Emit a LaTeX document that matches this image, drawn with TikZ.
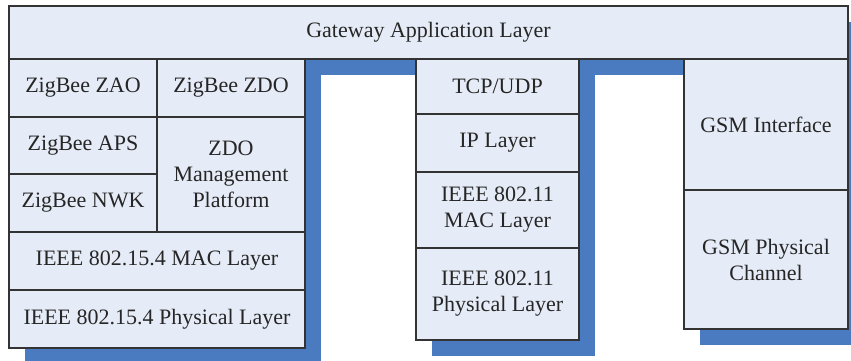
\documentclass[tikz,border=0pt]{standalone}
\usepackage{fontspec}
\setmainfont{Liberation Serif}
\newfontfamily\dfont{Liberation Serif}
\definecolor{boxfill}{HTML}{E6ECF7}
\definecolor{shadowblue}{HTML}{4A7BC0}
\definecolor{edge}{HTML}{333333}
\begin{document}
\begin{tikzpicture}[x=0.5pt,y=-0.5pt,
  box/.style={draw=edge, fill=boxfill, line width=0.6pt, inner sep=0pt,
    align=center, font=\dfont\fontsize{11}{13}\selectfont, text=black!85},
  shadowfill/.style={fill=shadowblue}]
\useasboundingbox (0,0) rectangle (851,360);
\clip (0,0) rectangle (851,360);
% shadows
\fill[shadowfill] (25,22) rectangle (864,75);
\fill[shadowfill] (25,75) rectangle (321,364);
\fill[shadowfill] (432,75) rectangle (595,356);
\fill[shadowfill] (700,75) rectangle (864,345);
% top layer
\node[box, minimum width=419.5pt, minimum height=26.5pt] (app) at (428.5,32.5) {Gateway Application Layer};
% ZigBee stack
\node[box, minimum width=74pt, minimum height=29pt] (zao) at (83,88) {ZigBee ZAO};
\node[box, minimum width=74pt, minimum height=29pt] (zdo) at (231,88) {ZigBee ZDO};
\node[box, minimum width=74pt, minimum height=28.5pt] (aps) at (83,145.5) {ZigBee APS};
\node[box, minimum width=74pt, minimum height=29pt] (nwk) at (83,203) {ZigBee NWK};
\node[box, minimum width=74pt, minimum height=57.5pt] (zdom) at (231,174.5) {ZDO\\Management\\Platform};
\node[box, minimum width=148pt, minimum height=29pt] (mac154) at (157,261) {IEEE 802.15.4 MAC Layer};
\node[box, minimum width=148pt, minimum height=29pt] (phy154) at (157,319) {IEEE 802.15.4 Physical Layer};
% WiFi stack
\node[box, minimum width=81.5pt, minimum height=27.5pt] (tcp) at (497.5,86.5) {TCP/UDP};
\node[box, minimum width=81.5pt, minimum height=29pt] (ip) at (497.5,143) {IP Layer};
\node[box, minimum width=81.5pt, minimum height=38pt] (mac11) at (497.5,210) {IEEE 802.11\\MAC Layer};
\node[box, minimum width=81.5pt, minimum height=46pt] (phy11) at (497.5,294) {IEEE 802.11\\Physical Layer};
% GSM stack
\node[box, minimum width=82pt, minimum height=65.5pt] (gsmi) at (766,124.5) {GSM Interface};
\node[box, minimum width=82pt, minimum height=69.5pt] (gsmp) at (766,259.5) {GSM Physical\\Channel};
\end{tikzpicture}
\end{document}
